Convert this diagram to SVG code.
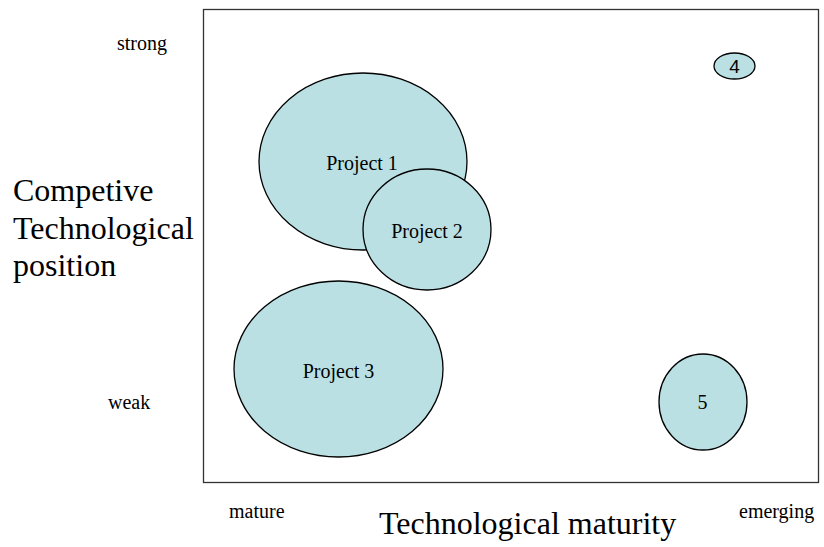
<svg xmlns="http://www.w3.org/2000/svg" width="824" height="547" viewBox="0 0 824 547">
<style>
.bub{fill:#bbe0e3;stroke:#000;stroke-width:1.3}
.t{font-family:"Liberation Serif","Times New Roman",serif;fill:#000}
.s{font-size:20px}
.l{font-size:32px}
.a{font-family:"Liberation Sans",Arial,sans-serif;font-size:19px;fill:#000}
</style>
<rect width="824" height="547" fill="#fff"/>
<g id="frame"><rect x="203.5" y="9.5" width="615" height="473" fill="#fff" stroke="#333" stroke-width="1.3"/></g>
<g id="connectors"></g>
<g id="project1"><ellipse class="bub" cx="363" cy="161.5" rx="104" ry="88.5"/><text class="t s" x="362" y="170" text-anchor="middle">Project 1</text></g>
<g id="project2"><ellipse class="bub" cx="427" cy="229.5" rx="64" ry="60.5"/><text class="t s" x="427" y="238" text-anchor="middle">Project 2</text></g>
<g id="project3"><ellipse class="bub" cx="338.5" cy="369" rx="104.5" ry="88"/><text class="t s" x="338.5" y="378" text-anchor="middle">Project 3</text></g>
<g id="project4"><ellipse class="bub" cx="734.5" cy="66" rx="20.5" ry="13"/><text class="a" x="734.5" y="73" text-anchor="middle">4</text></g>
<g id="project5"><ellipse class="bub" cx="703" cy="402" rx="44" ry="48"/><text class="t s" x="702.5" y="409" text-anchor="middle">5</text></g>
<g id="labels">
<text class="t s" x="117" y="50">strong</text>
<text class="t s" x="108" y="409">weak</text>
<text class="t l" x="13" y="201">Competive</text>
<text class="t l" x="13" y="239">Technological</text>
<text class="t l" x="13" y="276">position</text>
<text class="t s" x="229" y="518">mature</text>
<text class="t s" x="739" y="518">emerging</text>
<text class="t l" x="379" y="534">Technological maturity</text>
</g>
</svg>
